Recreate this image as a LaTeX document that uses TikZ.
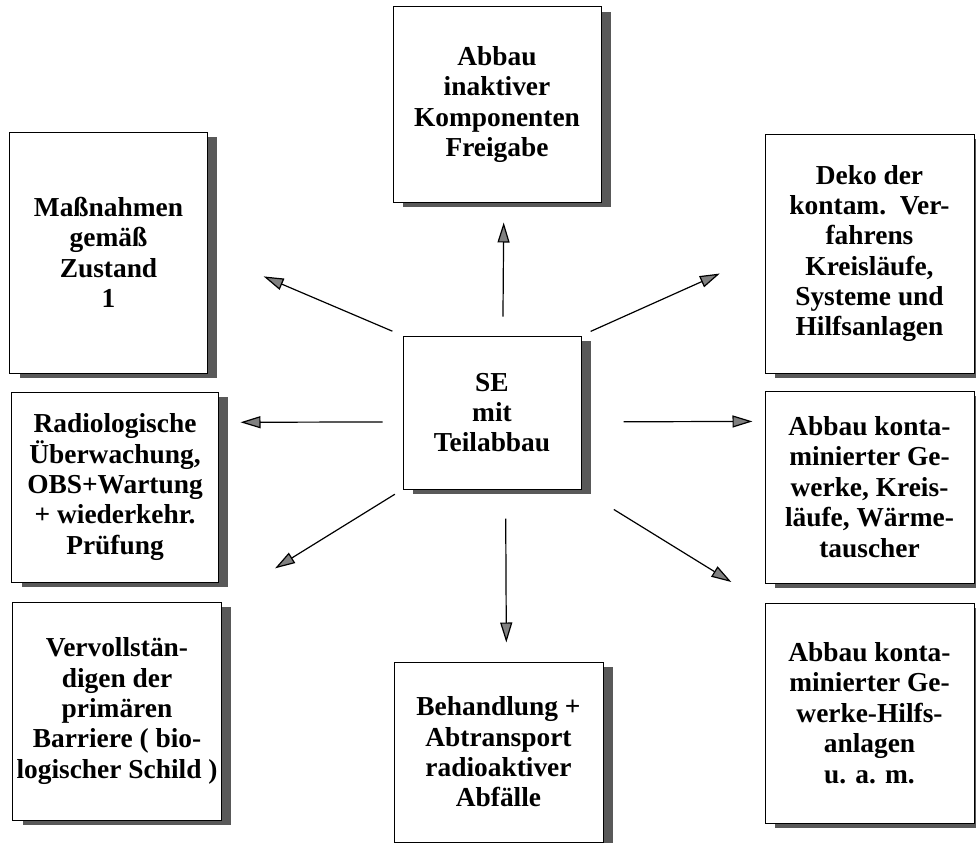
\documentclass[tikz,border=0pt]{standalone}
\usepackage{fontspec}
\setmainfont{Liberation Serif}
\usetikzlibrary{arrows.meta,shadows}

\begin{document}
\begin{tikzpicture}[x=1bp,y=-1bp,
        kasten/.style={draw,line width=1bp,fill=white,inner sep=0pt,align=center,
            font=\fontsize{27.5}{30.5}\selectfont\bfseries,
            drop shadow={shadow xshift=10bp,shadow yshift=-5bp,fill=black!65,opacity=1}},
        pfeil/.style={line width=1.2bp,-{Triangle[length=20bp,width=12bp,fill=black!50]}}]
        %画边界
        \useasboundingbox (0,0) rectangle (976,843);
        %中心框
        \node[kasten,minimum width=178bp,minimum height=153bp] (se) at (492,412.5) {SE\\mit\\Teilabbau};
        %上面和下面
        \node[kasten,minimum width=208bp,minimum height=195bp] (inaktiv) at (497,104.5)
            {Abbau\\inaktiver\\Komponenten\\Freigabe};
        \node[kasten,minimum width=209bp,minimum height=180bp] (abfall) at (498.5,752)
            {Behandlung +\\Abtransport\\radioaktiver\\Abfälle};
        %左边三个框
        \node[kasten,minimum width=197bp,minimum height=241bp] (zustand) at (108.5,252.5)
            {Maßnahmen\\gemäß\\Zustand\\1};
        \node[kasten,minimum width=206bp,minimum height=190bp] (radio) at (115,487)
            {Radiologische\\Überwachung,\\OBS+Wartung\\+ wiederkehr.\\Prüfung};
        \node[kasten,minimum width=208bp,minimum height=218bp] (barriere) at (117,711)
            {Vervollstän-\\digen der\\primären\\Barriere ( bio-\\logischer Schild )};
        %右边三个框
        \node[kasten,minimum width=209bp,minimum height=239bp] (deko) at (869.5,253.5)
            {Deko der\\kontam.\ \ Ver-\\fahrens\\Kreisläufe,\\Systeme und\\Hilfsanlagen};
        \node[kasten,minimum width=209bp,minimum height=192bp] (kreis) at (869.5,487)
            {Abbau konta-\\minierter Ge-\\werke, Kreis-\\läufe, Wärme-\\tauscher};
        \node[kasten,minimum width=209bp,minimum height=220bp] (hilfs) at (869.5,713)
            {Abbau konta-\\minierter Ge-\\werke-Hilfs-\\anlagen\\u. a. m.};
        %画箭头
        \draw[pfeil,shorten <=19bp,shorten >=20bp] (se.82) -- (inaktiv.-86.5);
        \draw[pfeil,shorten <=29bp,shorten >=19bp] (se.-80.4) -- (abfall.85.9);
        \draw[pfeil,shorten <=11bp,shorten >=61bp] (se.north west) -- (zustand.east);
        \draw[pfeil,shorten <=20bp,shorten >=22bp] (se.186) -- (radio.32);
        \draw[pfeil,shorten <=9bp,shorten >=63bp] (se.south west) -- (barriere.north east);
        \draw[pfeil,shorten <=10bp,shorten >=49bp] (se.north east) -- (deko.west);
        \draw[pfeil,shorten <=42bp,shorten >=12bp] (se.-6.7) -- (kreis.148.5);
        \draw[pfeil,shorten <=38bp,shorten >=39bp] (se.south east) -- (hilfs.north west);
\end{tikzpicture}
\end{document}
